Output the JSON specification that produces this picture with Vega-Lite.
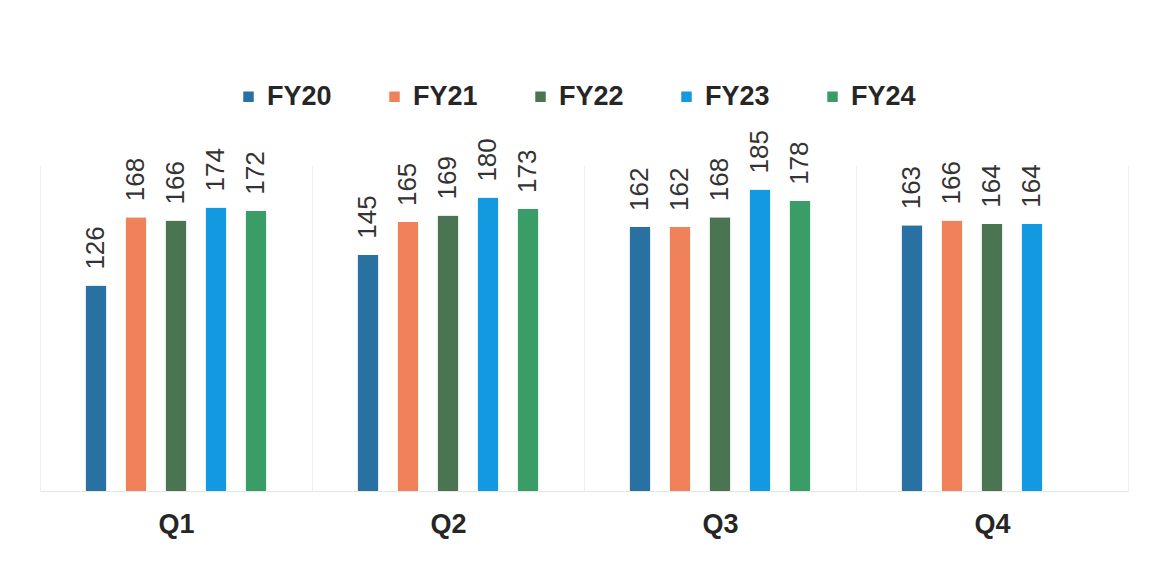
{
  "$schema": "https://vega.github.io/schema/vega-lite/v6.json",
  "width": 1088,
  "height": 326,
  "autosize": {"type": "none"},
  "padding": {"left": 40, "top": 165, "right": 27, "bottom": 74},
  "background": "#ffffff",
  "config": {"view": {"stroke": null}, "font": "Liberation Sans"},
  "data": {
    "values": [
      {"q": "Q1", "fy": "FY20", "v": 126},
      {"q": "Q1", "fy": "FY21", "v": 168},
      {"q": "Q1", "fy": "FY22", "v": 166},
      {"q": "Q1", "fy": "FY23", "v": 174},
      {"q": "Q1", "fy": "FY24", "v": 172},
      {"q": "Q2", "fy": "FY20", "v": 145},
      {"q": "Q2", "fy": "FY21", "v": 165},
      {"q": "Q2", "fy": "FY22", "v": 169},
      {"q": "Q2", "fy": "FY23", "v": 180},
      {"q": "Q2", "fy": "FY24", "v": 173},
      {"q": "Q3", "fy": "FY20", "v": 162},
      {"q": "Q3", "fy": "FY21", "v": 162},
      {"q": "Q3", "fy": "FY22", "v": 168},
      {"q": "Q3", "fy": "FY23", "v": 185},
      {"q": "Q3", "fy": "FY24", "v": 178},
      {"q": "Q4", "fy": "FY20", "v": 163},
      {"q": "Q4", "fy": "FY21", "v": 166},
      {"q": "Q4", "fy": "FY22", "v": 164},
      {"q": "Q4", "fy": "FY23", "v": 164}
    ]
  },
  "encoding": {
    "x": {
      "field": "q",
      "type": "nominal",
      "scale": {"paddingInner": 0, "paddingOuter": 0},
      "axis": {
        "title": null,
        "labelAngle": 0,
        "labelFont": "Liberation Sans",
        "labelFontWeight": "bold",
        "labelFontSize": 27,
        "labelColor": "#262626",
        "ticks": false,
        "labelPadding": 20,
        "domainColor": "#e6e6e6",
        "grid": true,
        "gridColor": "#f0f0f0",
        "tickBand": "extent"
      }
    },
    "xOffset": {
      "field": "fy",
      "type": "nominal",
      "scale": {"domain": ["FY20", "FY21", "FY22", "FY23", "FY24"], "paddingInner": 0.2, "paddingOuter": 1.0}
    },
    "y": {
      "field": "v",
      "type": "quantitative",
      "scale": {"domain": [0, 200]},
      "axis": null
    }
  },
  "layer": [
    {
      "mark": {"type": "bar", "cornerRadius": 1, "width": 21},
      "encoding": {
        "color": {
          "field": "fy",
          "type": "nominal",
          "scale": {
            "domain": ["FY20", "FY21", "FY22", "FY23", "FY24"],
            "range": ["#2a71a3", "#f0825b", "#4b7452", "#1399e0", "#3a9d68"]
          },
          "legend": {
            "title": null,
            "orient": "none",
            "direction": "horizontal",
            "legendX": 195,
            "legendY": -82,
            "padding": 0,
            "symbolType": "square",
            "symbolSize": 110,
            "symbolStrokeWidth": 0,
            "labelFont": "Liberation Sans",
            "labelFontSize": 27,
            "labelFontWeight": "bold",
            "labelColor": "#262626",
            "labelOffset": 5,
            "columnPadding": 49
          }
        }
      }
    },
    {
      "mark": {
        "type": "text",
        "angle": 270,
        "align": "left",
        "baseline": "middle",
        "dx": 16,
        "font": "Liberation Sans",
        "fontSize": 26,
        "color": "#333333"
      },
      "encoding": {"text": {"field": "v", "type": "quantitative"}}
    }
  ]
}
